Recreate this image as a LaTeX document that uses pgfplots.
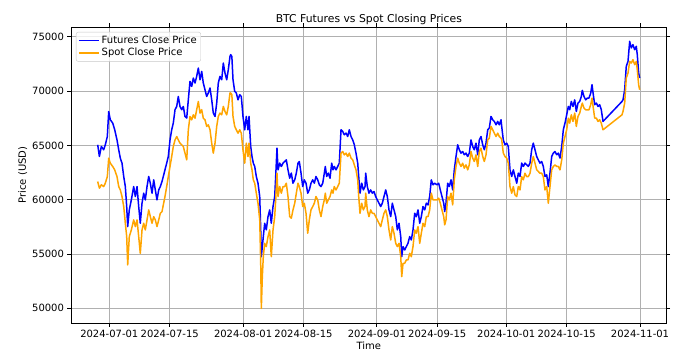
\documentclass[border=0pt]{standalone}
\usepackage{pgfplots}
\pgfplotsset{compat=1.18}
\usepackage{pgfplotstable}
\usepackage{fontspec}
\setmainfont{DejaVu Sans}
\definecolor{mplorange}{RGB}{255,165,0}
\definecolor{mplgrid}{RGB}{176,176,176}
\pgfplotstableread{
x fut spot
-2.69 65060 61670
-2.30 63980 61060
-1.85 64900 61370
-1.30 64600 61210
-0.93 65060 61520
-0.46 65820 62130
-0.14 68120 63830
0.23 67360 63360
0.79 67060 63060
1.25 66440 62750
1.78 65510 62130
2.18 64600 61210
2.55 63830 60900
2.94 63370 60290
3.34 62140 59370
3.71 61210 57830
4.03 59370 56600
4.26 57520 53990
4.63 59060 56600
5.10 59980 57210
5.65 61210 58140
6.03 60290 57520
6.42 61210 58140
6.81 59370 56600
7.18 57830 55060
7.58 59680 57210
7.97 60600 57830
8.34 59980 57210
8.74 61210 58140
9.13 62140 59060
9.50 61520 58440
9.90 60600 57830
10.29 61830 58440
10.66 60900 58140
11.05 59980 57520
11.45 60900 58140
11.82 61210 58750
12.21 61670 58900
12.90 62750 60290
13.30 63370 61210
13.67 63980 62130
14.07 65510 63060
14.46 66440 63980
14.83 67060 64900
15.23 68290 65510
15.62 68590 65820
15.99 69510 65510
16.38 68590 65210
16.78 68290 65050
17.15 68590 64900
17.54 67670 64290
17.94 67520 63670
18.31 69200 66440
18.70 70900 67670
19.10 70440 67360
19.47 71210 67820
19.86 70750 67510
20.25 71360 68290
20.63 72130 69050
21.02 71050 67980
21.41 71820 68290
21.78 70750 67510
22.18 70130 67360
22.57 69510 66750
22.94 69830 66900
23.34 70290 66440
23.73 69200 65210
24.10 67980 64290
24.50 67670 65210
24.89 68900 66750
25.26 70750 67670
25.65 71360 67980
26.05 71050 67820
26.42 72590 68590
26.81 71670 68130
27.21 71050 67820
27.58 71980 68600
27.97 73200 69830
28.13 73360 69830
28.40 73200 69670
28.67 71050 67670
29.06 69980 66750
29.43 69830 66440
29.83 69200 66130
30.22 69670 66440
30.59 69510 66130
30.98 67670 64590
31.38 66440 63360
31.75 67670 65210
32.14 66440 63980
32.38 67670 65210
32.77 64900 63360
33.07 63980 62750
33.37 63370 61830
33.70 63060 61520
34.07 62140 60600
34.46 61520 59670
34.86 60290 58140
35.09 57220 54140
35.23 54750 49990
35.46 55680 52910
35.69 56600 54750
36.01 57830 55980
36.38 57220 55680
36.78 58440 56600
37.17 59060 57210
37.54 57830 54750
37.94 59370 57210
38.33 60290 58440
38.56 62140 59980
38.86 64750 62440
39.10 62750 60290
39.49 63370 61210
39.86 63060 60600
40.26 63370 61210
40.65 63520 61210
41.02 63670 61520
41.41 62750 60290
41.81 61980 58440
42.18 62450 58290
42.57 61520 59060
42.97 61830 59670
43.34 62450 60600
43.73 63370 61520
44.03 63520 61200
44.43 62450 60600
44.82 61210 59370
45.19 61830 59670
45.59 61520 58750
45.98 60600 56910
46.35 60900 58140
46.74 61520 59060
47.14 61830 59370
47.51 61520 59670
47.90 62140 60290
48.30 61830 59980
48.67 61370 59060
49.06 61210 58440
49.46 61520 59370
49.83 62450 59980
50.06 63060 60600
50.38 62140 59670
50.75 62450 59980
51.15 61980 60290
51.54 63370 60900
51.84 62750 60600
52.14 63060 61210
52.54 62750 60900
52.93 63060 61210
53.30 63370 61520
53.70 66440 64290
54.09 66290 64440
54.46 65980 64130
54.86 66140 64290
55.25 65820 63980
55.62 66440 64290
56.02 65820 63830
56.41 65510 63670
56.78 65060 63210
57.17 64290 62750
57.57 63370 61830
57.80 62140 60290
58.10 60600 58750
58.50 61520 59670
58.87 60900 59060
59.26 61210 59370
59.42 62450 60600
59.79 61210 59060
60.18 60600 58440
60.58 60900 59060
60.95 60600 58750
61.34 60750 58750
61.74 60290 58440
62.11 59980 58140
62.50 59680 57830
62.90 59370 57520
63.27 59680 58140
63.66 60290 58750
64.06 60900 59060
64.43 60290 58440
64.82 59060 57210
65.22 58440 56290
65.59 59680 57520
65.98 59060 56910
66.38 58440 55980
66.75 57220 55680
67.14 57830 55980
67.54 56600 54750
67.77 54750 52910
68.07 55680 54140
68.46 55370 54140
68.83 55680 54450
69.22 55990 54450
69.62 56600 55060
69.99 56290 54750
70.38 57220 55680
70.78 58750 57210
71.15 58440 56910
71.54 59060 57520
71.94 57830 55980
72.31 58440 56910
72.70 59370 57830
73.10 59060 57520
73.47 59680 58440
73.86 59520 58440
74.25 60290 59060
74.62 61830 60600
75.02 61370 59980
75.41 61520 59980
75.94 61370 59980
76.34 61520 60140
76.71 60900 59670
77.10 60290 59060
77.50 59680 58440
77.73 58900 57680
78.03 59680 58140
78.42 61520 60290
78.79 61210 59980
79.19 61830 60600
79.58 60900 59520
79.95 62750 61830
80.35 63980 63060
80.74 65060 63830
81.11 64600 63360
81.51 64290 63060
81.90 64440 63360
82.27 64140 62900
82.66 64290 63210
83.06 63980 62750
83.43 64290 63210
83.82 65510 64440
84.22 64900 63830
84.59 64600 63520
84.98 65210 64130
85.38 64140 63060
85.75 65510 64440
86.14 65820 64750
86.54 65060 63980
86.91 64600 63520
87.30 65210 64130
87.70 66440 65520
88.07 66600 65670
88.46 67670 66750
88.86 67360 66440
89.23 67210 66130
89.62 66900 65820
90.02 67210 66130
90.38 66900 65820
90.78 67360 65670
90.94 66750 65520
91.31 65510 64290
91.70 65060 63980
92.10 65210 63830
92.47 64900 63360
92.86 62750 61210
93.26 62140 60600
93.63 62750 61210
94.02 62140 60440
94.42 61520 60290
94.79 62450 61210
95.18 62140 60900
95.57 63370 62130
95.95 63060 61830
96.34 63370 62440
96.73 63220 62130
97.10 63060 62130
97.50 63370 62440
97.89 64600 63360
98.26 65210 63980
98.66 64600 63360
99.05 63980 62750
99.42 63670 62600
99.81 63370 62440
100.21 63520 62440
100.58 63060 62130
100.97 62140 60900
101.37 62290 61210
101.74 61210 59670
102.13 62450 61210
102.53 63980 62750
102.90 64290 63060
103.29 64440 63210
103.69 64140 63060
104.06 64290 63060
104.45 63830 62750
104.85 64900 63670
105.22 66440 65210
105.61 67060 65820
106.00 67820 66440
106.38 68590 67510
106.70 68290 67050
107.07 69050 67820
107.46 68590 67210
107.86 69200 67980
108.23 68130 66750
108.62 68900 67670
109.02 69050 67980
109.39 69510 68590
109.62 70070 68900
110.01 69510 68440
110.41 69200 68280
110.78 69360 68280
111.17 69360 68280
111.57 69830 68750
111.87 70590 69360
112.17 69670 68440
112.49 68750 67520
112.87 68900 67520
113.26 68590 67210
113.65 68750 67360
114.02 68290 67050
114.42 67210 66440
118.82 69050 67820
119.05 69200 68130
119.44 70130 68900
119.81 72280 71210
120.21 72740 71670
120.60 74590 72740
120.97 73980 72590
121.36 74280 72900
121.76 73820 72440
122.13 74130 72740
122.36 73360 71970
122.68 71670 70590
122.91 71210 70130
}\data
\begin{document}
\begin{tikzpicture}
\path[use as bounding box] (-71pt,-33pt) rectangle (603pt,323pt);
\begin{axis}[
  scale only axis,
  width=595.7pt, height=296pt,
  xmin=-8.88, xmax=129.18,
  ymin=48640, ymax=75910,
  xtick={0,14,31,45,62,76,92,106,123},
  xticklabels={2024-07-01,2024-07-15,2024-08-01,2024-08-15,2024-09-01,2024-09-15,2024-10-01,2024-10-15,2024-11-01},
  ytick={50000,55000,60000,65000,70000,75000},
  scaled y ticks=false,
  /pgf/number format/.cd, 1000 sep={}, assume math mode=true,
  /pgfplots/.cd,
  tick align=outside,
  major tick length=3.5pt,
  tick style={black, line width=0.8pt},
  axis line style={black, line width=0.8pt},
  grid=major,
  major grid style={mplgrid, line width=0.8pt},
  tick label style={font=\fontsize{10}{12}\selectfont},
  label style={font=\fontsize{10}{12}\selectfont},
  title style={font=\fontsize{10.8}{13}\selectfont, yshift=-7pt},
  title={BTC Futures vs Spot Closing Prices},
  xlabel={Time},
  ylabel={Price (USD)},
  xlabel style={yshift=3pt},
  ylabel style={yshift=-2pt},
  legend style={at={(0,1)}, anchor=north west, xshift=5pt, yshift=-5pt,
    draw=mplgrid!70, rounded corners=2pt, fill=white, fill opacity=0.8, text opacity=1,
    font=\fontsize{10}{12}\selectfont, inner sep=2pt, row sep=-1pt},
  legend cell align=left,
  legend image code/.code={\draw[#1,line width=1.5pt] (0pt,0pt) -- (20pt,0pt);},
]
\addplot[blue, line width=1.5pt, line join=round] table[x=x,y=fut] {\data};
\addlegendentry{Futures Close Price}
\addplot[mplorange, line width=1.5pt, line join=round] table[x=x,y=spot] {\data};
\addlegendentry{Spot Close Price}
\end{axis}
\end{tikzpicture}
\end{document}
